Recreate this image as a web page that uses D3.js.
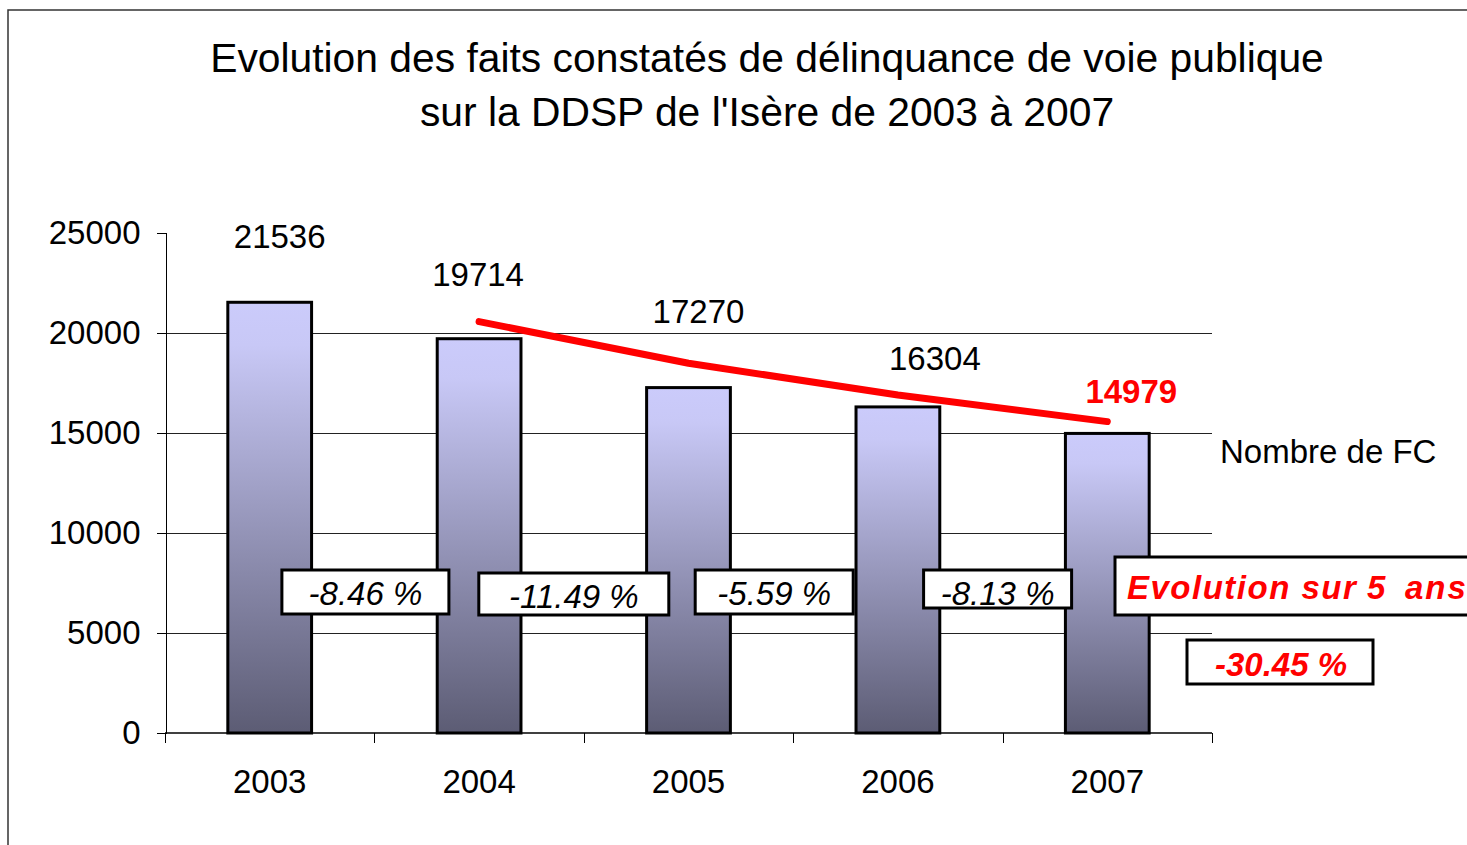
<!DOCTYPE html>
<html><head><meta charset="utf-8">
<script src="https://cdn.jsdelivr.net/npm/d3@7"></script>
<style>
html,body{margin:0;padding:0;background:#fff;overflow:hidden}
svg{display:block;font-family:"Liberation Sans",Arial,sans-serif}
</style></head>
<body>
<svg id="c" width="1467" height="845"></svg>
<script>
// ---- data ----
const titleLines = ["Evolution des faits constatés de délinquance de voie publique", "sur la DDSP de l'Isère de 2003 à 2007"];
const years = ["2003", "2004", "2005", "2006", "2007"];
const counts = [21536, 19714, 17270, 16304, 14979];
const trendYears = ["2004", "2005", "2006", "2007"];
const trendValues = [20570, 18490, 16900, 15570];
const pctLabels = ["-8.46 %", "-11.49 %", "-5.59 %", "-8.13 %"];
const yTicks = [0, 5000, 10000, 15000, 20000, 25000];
const seriesName = "Nombre de FC";
const totalLabelParts = ["Evolution sur", "5", "ans"];
const totalPct = "-30.45 %";

// ---- layout ----
const plot = {left: 165, right: 1212, top: 233, bottom: 733};
const svg = d3.select("#c");

const x = d3.scaleBand().domain(years).range([plot.left, plot.right]).paddingInner(0.6).paddingOuter(0.3);
const y = d3.scaleLinear().domain([0, 25000]).range([plot.bottom, plot.top]);
const step = x.step();

// frame
svg.append("rect").attr("x", 8).attr("y", 10).attr("width", 1500).attr("height", 900)
  .attr("fill", "#fff").attr("stroke", "#333").attr("stroke-width", 1.5);

// title
svg.append("g").selectAll("text").data(titleLines).join("text")
  .attr("x", 767).attr("y", (d, i) => 72 + i * 54)
  .attr("text-anchor", "middle").attr("font-size", 40.8).attr("fill", "#000").text(d => d);

// gradient
const defs = svg.append("defs");
const grad = defs.append("linearGradient").attr("id", "bg").attr("x1", 0).attr("y1", 0).attr("x2", 0).attr("y2", 1);
grad.append("stop").attr("offset", 0).attr("stop-color", "#cbcbfb");
grad.append("stop").attr("offset", 0.1).attr("stop-color", "#c8c8f6");
grad.append("stop").attr("offset", 1).attr("stop-color", "#5c5c74");

// gridlines
svg.append("g").selectAll("line").data(yTicks.filter(t => t > 0 && t < 25000)).join("line")
  .attr("x1", plot.left).attr("x2", plot.right)
  .attr("y1", d => y(d) + 0.5).attr("y2", d => y(d) + 0.5)
  .attr("stroke", "#222").attr("stroke-width", 1).attr("shape-rendering", "crispEdges");

// y axis
const yAxis = d3.axisLeft(y).tickValues(yTicks).tickSize(9).tickPadding(16).tickFormat(d3.format("d"));
const gy = svg.append("g").attr("transform", `translate(${plot.left + 0.5},0)`).call(yAxis);
gy.select(".domain").attr("stroke", "#000").attr("stroke-width", 1).attr("shape-rendering", "crispEdges");
gy.selectAll(".tick line").attr("stroke", "#000").attr("shape-rendering", "crispEdges");
gy.selectAll(".tick text").attr("font-size", 33).attr("fill", "#000")
  .attr("font-family", "Liberation Sans, Arial, sans-serif").attr("dy", "0.33em");

// x axis (ticks at category boundaries)
const xAxisLine = svg.append("g");
xAxisLine.append("line").attr("x1", plot.left).attr("x2", plot.right).attr("y1", plot.bottom).attr("y2", plot.bottom)
  .attr("stroke", "#000").attr("stroke-width", 1.5);
xAxisLine.selectAll("line.tk").data(d3.range(years.length + 1)).join("line").attr("class", "tk")
  .attr("x1", i => Math.round(plot.left + i * step) + 0.5).attr("x2", i => Math.round(plot.left + i * step) + 0.5)
  .attr("y1", plot.bottom).attr("y2", plot.bottom + 10).attr("stroke", "#000").attr("stroke-width", 1);
const xAxis = d3.axisBottom(x).tickSize(0).tickPadding(0);
const gx = svg.append("g").attr("transform", `translate(0,${plot.bottom})`).call(xAxis);
gx.select(".domain").remove();
gx.selectAll(".tick text").attr("font-size", 33).attr("fill", "#000")
  .attr("font-family", "Liberation Sans, Arial, sans-serif").attr("dy", 60).attr("dx", 0);

// bars
svg.append("g").selectAll("rect").data(years).join("rect")
  .attr("x", d => x(d)).attr("width", x.bandwidth())
  .attr("y", (d, i) => y(counts[i])).attr("height", (d, i) => y(0) - y(counts[i]))
  .attr("fill", "url(#bg)").attr("stroke", "#000").attr("stroke-width", 3);

// value labels (manual offsets, as in the original)
const labDx = [10, -1, 10, 37, 24];
const labDy = [-54, -53, -65, -37, -30];
svg.append("g").selectAll("text").data(years).join("text")
  .attr("x", (d, i) => x(d) + x.bandwidth() / 2 + labDx[i])
  .attr("y", (d, i) => y(counts[i]) + labDy[i])
  .attr("text-anchor", "middle").attr("font-size", 33)
  .attr("font-weight", (d, i) => i === years.length - 1 ? "bold" : "normal")
  .attr("fill", (d, i) => i === years.length - 1 ? "#ff0000" : "#000")
  .text((d, i) => counts[i]);

// trend line
const line = d3.line().x((d, i) => x(trendYears[i]) + x.bandwidth() / 2).y(d => y(d)).curve(d3.curveLinear);
svg.append("path").attr("d", line(trendValues)).attr("fill", "none")
  .attr("stroke", "#ff0000").attr("stroke-width", 7).attr("stroke-linecap", "round").attr("stroke-linejoin", "round");

// series name
svg.append("text").attr("x", 1220).attr("y", 463).attr("font-size", 33).attr("fill", "#000").text(seriesName);

// percent boxes
const pctDx = [-9, -10, -19, -5];
const pctW = [167, 190, 158, 148];
const pctY0 = [570, 573, 570, 570];
const pctH = [44, 42, 44, 38];
const pg = svg.append("g").selectAll("g").data(pctLabels).join("g")
  .attr("transform", (d, i) => `translate(${plot.left + (i + 1) * step + pctDx[i]},0)`);
pg.append("rect").attr("x", (d, i) => -pctW[i] / 2).attr("y", (d, i) => pctY0[i])
  .attr("width", (d, i) => pctW[i]).attr("height", (d, i) => pctH[i])
  .attr("fill", "#fff").attr("stroke", "#000").attr("stroke-width", 3);
pg.append("text").attr("x", 0).attr("y", (d, i) => pctY0[i] + 35)
  .attr("text-anchor", "middle").attr("font-size", 33).attr("font-style", "italic").attr("fill", "#000").text(d => d);

// total evolution box
svg.append("rect").attr("x", 1115).attr("y", 557).attr("width", 400).attr("height", 58)
  .attr("fill", "#fff").attr("stroke", "#000").attr("stroke-width", 3);
const partX = [1127, 1367, 1405];
const partLS = [1.5, 0, 2];
svg.append("g").selectAll("text").data(totalLabelParts).join("text")
  .attr("x", (d, i) => partX[i]).attr("y", 599).attr("font-size", 33).attr("font-weight", "bold")
  .attr("font-style", "italic").attr("fill", "#ff0000").attr("letter-spacing", (d, i) => partLS[i]).text(d => d);

svg.append("rect").attr("x", 1187).attr("y", 640).attr("width", 186).attr("height", 44)
  .attr("fill", "#fff").attr("stroke", "#000").attr("stroke-width", 3);
svg.append("text").attr("x", 1281).attr("y", 676).attr("text-anchor", "middle").attr("font-size", 33)
  .attr("font-weight", "bold").attr("font-style", "italic").attr("fill", "#ff0000").text(totalPct);
</script>
</body></html>
